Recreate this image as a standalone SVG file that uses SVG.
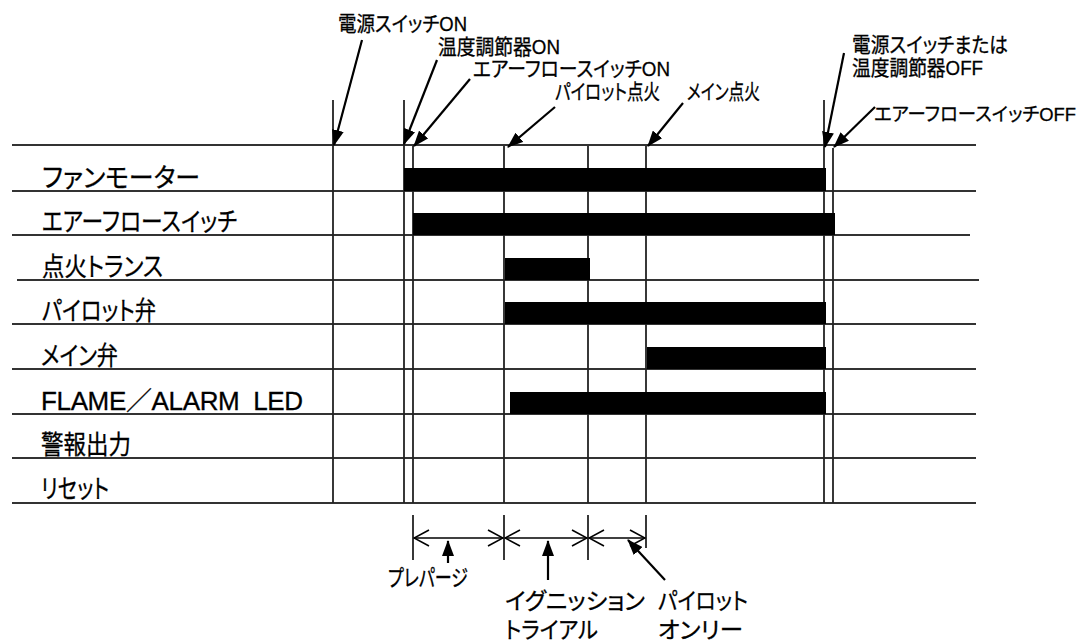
<svg xmlns="http://www.w3.org/2000/svg" width="1086" height="642" viewBox="0 0 1086 642">
<style>
  .t { font-family: "Liberation Sans", "Noto Sans CJK JP", sans-serif; fill: #000; stroke: #000; stroke-width: 0.3; font-weight: 400; font-feature-settings: "palt"; }
  .lab { font-size: 26px; }
  .top { font-size: 21px; }
  .bot { font-size: 23px; }
  .h { stroke: #333; stroke-width: 2; fill: none; }
  .v { stroke: #222; stroke-width: 1.8; fill: none; }
  .bar { fill: #000; }
  .arr { stroke: #000; stroke-width: 2.2; fill: none; marker-end: url(#ah); }
  .dbl { stroke: #000; stroke-width: 1.6; fill: none; marker-start: url(#oh); marker-end: url(#oh); }
</style>
<defs>
  <marker id="ah" viewBox="0 0 16 12" refX="15" refY="6" markerWidth="16" markerHeight="12" markerUnits="userSpaceOnUse" orient="auto">
    <path d="M0,0 L16,6 L0,12 z" fill="#000"/>
  </marker>
  <marker id="oh" viewBox="-1 -1 17 18" refX="15" refY="8" markerWidth="17" markerHeight="18" markerUnits="userSpaceOnUse" orient="auto-start-reverse">
    <path d="M0,0 L15,8 L0,16" fill="none" stroke="#000" stroke-width="1.6"/>
  </marker>
</defs>

<g id="grid">
  <line class="h" x1="12" y1="145" x2="976" y2="145"/>
  <line class="h" x1="12" y1="191" x2="976" y2="191"/>
  <line class="h" x1="12" y1="235" x2="970" y2="235"/>
  <line class="h" x1="17" y1="280" x2="979" y2="280"/>
  <line class="h" x1="12" y1="324" x2="976" y2="324"/>
  <line class="h" x1="12" y1="369" x2="976" y2="369"/>
  <line class="h" x1="12" y1="414" x2="976" y2="414"/>
  <line class="h" x1="12" y1="458" x2="976" y2="458"/>
  <line class="h" x1="12" y1="503" x2="976" y2="503" stroke-width="3"/>
  <line class="v" x1="333" y1="100" x2="333" y2="503"/>
  <line class="v" x1="404" y1="100" x2="404" y2="503"/>
  <line class="v" x1="413" y1="146" x2="413" y2="503"/>
  <line class="v" x1="504" y1="146" x2="504" y2="503"/>
  <line class="v" x1="588" y1="146" x2="588" y2="503"/>
  <line class="v" x1="646" y1="146" x2="646" y2="503"/>
  <line class="v" x1="824" y1="100" x2="824" y2="503"/>
  <line class="v" x1="833" y1="148" x2="833" y2="503"/>
</g>

<g id="bars">
  <rect class="bar" x="404" y="168" width="422" height="23"/>
  <rect class="bar" x="413" y="213" width="422" height="22"/>
  <rect class="bar" x="505" y="258" width="85" height="22"/>
  <rect class="bar" x="505" y="302" width="321" height="22"/>
  <rect class="bar" x="647" y="347" width="179" height="22"/>
  <rect class="bar" x="510" y="392" width="316" height="22"/>
</g>

<g id="row-labels" class="t lab">
  <text id="fan" x="42" y="187" textLength="158" lengthAdjust="spacingAndGlyphs">ファンモーター</text>
  <text id="afs" x="42" y="231" textLength="195" lengthAdjust="spacingAndGlyphs">エアーフロースイッチ</text>
  <text id="ign" x="42" y="276" textLength="121" lengthAdjust="spacingAndGlyphs">点火トランス</text>
  <text id="pv" x="42" y="320" textLength="114" lengthAdjust="spacingAndGlyphs">パイロット弁</text>
  <text id="mv" x="41" y="365" textLength="77" lengthAdjust="spacingAndGlyphs">メイン弁</text>
  <text id="led" x="41" y="410" textLength="262" style="white-space:pre">FLAME／ALARM  LED</text>
  <text id="alarm" x="41" y="454" textLength="90" lengthAdjust="spacingAndGlyphs">警報出力</text>
  <text id="reset" x="41" y="498" textLength="68" lengthAdjust="spacingAndGlyphs">リセット</text>
</g>

<g id="event-labels" class="t top">
  <text x="338" y="31" textLength="129" lengthAdjust="spacingAndGlyphs">電源スイッチON</text>
  <text x="438" y="54" textLength="122" lengthAdjust="spacingAndGlyphs">温度調節器ON</text>
  <text x="473" y="76" textLength="197" lengthAdjust="spacingAndGlyphs">エアーフロースイッチON</text>
  <text x="555" y="99" textLength="105" lengthAdjust="spacingAndGlyphs">パイロット点火</text>
  <text x="687" y="99" textLength="73" lengthAdjust="spacingAndGlyphs">メイン点火</text>
  <text x="852" y="52" textLength="156" lengthAdjust="spacingAndGlyphs">電源スイッチまたは</text>
  <text x="852" y="75" textLength="131" lengthAdjust="spacingAndGlyphs">温度調節器OFF</text>
  <text x="874" y="121" font-size="19" textLength="202" lengthAdjust="spacingAndGlyphs">エアーフロースイッチOFF</text>
</g>

<g id="connectors">
  <line class="arr" x1="362" y1="40" x2="334" y2="145"/>
  <line class="arr" x1="437" y1="60" x2="404" y2="144"/>
  <line class="arr" x1="470" y1="79" x2="414" y2="146"/>
  <line class="arr" x1="555" y1="107" x2="508" y2="147"/>
  <line class="arr" x1="683" y1="103" x2="648" y2="146"/>
  <line class="arr" x1="844" y1="53" x2="825" y2="147"/>
  <line class="arr" x1="875" y1="107" x2="834" y2="147"/>
</g>

<g id="phase-markers">
  <line class="v" x1="413" y1="515" x2="413" y2="560"/>
  <line class="v" x1="504" y1="515" x2="504" y2="560"/>
  <line class="v" x1="588" y1="515" x2="588" y2="560"/>
  <line class="v" x1="646" y1="515" x2="646" y2="548"/>
  <line class="dbl" x1="414" y1="538" x2="503" y2="538"/>
  <line class="dbl" x1="505" y1="538" x2="587" y2="538"/>
  <line class="dbl" x1="589" y1="538" x2="645" y2="538"/>
  <line class="arr" x1="448" y1="563" x2="448" y2="541"/>
  <line class="arr" x1="548" y1="580" x2="548" y2="541"/>
  <line class="arr" x1="665" y1="580" x2="628" y2="540"/>
</g>

<g id="phase-labels" class="t bot">
  <text x="388" y="586" textLength="80" lengthAdjust="spacingAndGlyphs">プレパージ</text>
  <text x="505" y="609" textLength="140" lengthAdjust="spacingAndGlyphs">イグニッション</text>
  <text x="505" y="638" textLength="93" lengthAdjust="spacingAndGlyphs">トライアル</text>
  <text x="658" y="609" textLength="90" lengthAdjust="spacingAndGlyphs">パイロット</text>
  <text x="658" y="638" textLength="85" lengthAdjust="spacingAndGlyphs">オンリー</text>
</g>
</svg>
